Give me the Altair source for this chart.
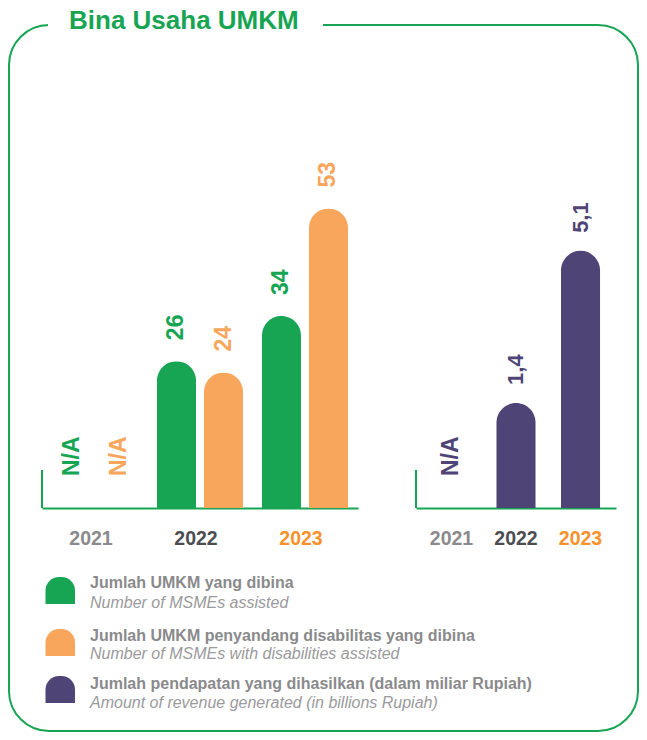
import altair as alt
import pandas as pd

# ---------------- data ----------------
years = ["2021", "2022", "2023"]
series_keys = ["dibina", "disabilitas"]
umkm_dibina = [None, 26, 34]
umkm_dibina_labels = ["N/A", "26", "34"]
umkm_disabilitas = [None, 24, 53]
umkm_disabilitas_labels = ["N/A", "24", "53"]
pendapatan = [None, 1.4, 5.1]
pendapatan_labels = ["N/A", "1,4", "5,1"]

title_text = "Bina Usaha UMKM"
legend_id = [
    "Jumlah UMKM yang dibina",
    "Jumlah UMKM penyandang disabilitas yang dibina",
    "Jumlah pendapatan yang dihasilkan (dalam miliar Rupiah)",
]
legend_en = [
    "Number of MSMEs assisted",
    "Number of MSMEs with disabilities assisted",
    "Amount of revenue generated (in billions Rupiah)",
]

# ---------------- style ----------------
FONT = "Liberation Sans"
GREEN = "#17A553"
ORANGE = "#F8A65B"
PURPLE = "#4E4476"
YEAR_GRAY = "#8B8B8D"
YEAR_DARK = "#4D4D4F"
YEAR_ORANGE = "#F7922C"
LEGEND_BOLD = "#8A8A8C"
LEGEND_ITAL = "#9A9A9C"

H = 357
W_LEFT = 316
W_RIGHT = 200
LEFT_MAX = 63.2
REV_BASE = -1.156
REV_MAX = 7.53

rows = []
for i, y in enumerate(years):
    rows.append({"year": y, "series": "dibina", "value": umkm_dibina[i], "label": umkm_dibina_labels[i]})
    rows.append({"year": y, "series": "disabilitas", "value": umkm_disabilitas[i], "label": umkm_disabilitas_labels[i]})
left_df = pd.DataFrame(rows)
right_df = pd.DataFrame({"year": years, "value": pendapatan, "label": pendapatan_labels})
one = pd.DataFrame({"a": [0]})

label_color_expr = (
    f"datum.value == '2023' ? '{YEAR_ORANGE}' : (datum.value == '2022' ? '{YEAR_DARK}' : '{YEAR_GRAY}')"
)


def x_axis(offset=0):
    return alt.Axis(
        title=None, ticks=False, tickSize=0, domainColor=GREEN, domainWidth=2,
        labelAngle=0, labelFont=FONT, labelFontSize=19.5, labelFontWeight="bold",
        labelColor=alt.expr(label_color_expr), labelPadding=21, labelOffset=offset,
    )


# ---------------- left panel ----------------
xL = alt.X("year:N", sort=years, scale=alt.Scale(domain=years, paddingInner=0.1, paddingOuter=0.055), axis=x_axis(-4))
xoL = alt.XOffset("series:N", sort=series_keys,
                  scale=alt.Scale(domain=series_keys, paddingInner=0.17, paddingOuter=0.09))
yL = alt.Y("value:Q", scale=alt.Scale(domain=[0, LEFT_MAX], nice=False), axis=None)
colL = alt.Color("series:N", scale=alt.Scale(domain=series_keys, range=[GREEN, ORANGE]), legend=None)

baseL = alt.Chart(left_df)
barsL = baseL.mark_bar(cornerRadiusTopLeft=19.5, cornerRadiusTopRight=19.5).encode(x=xL, xOffset=xoL, y=yL, color=colL)
valL = baseL.transform_filter("isValid(datum.value)").mark_text(
    angle=270, align="left", baseline="middle", dx=21, font=FONT, fontSize=23, fontWeight="bold"
).encode(x=xL, xOffset=xoL, y=yL, color=colL, text="label:N")
naL = baseL.transform_filter("!isValid(datum.value)").mark_text(
    angle=270, align="left", baseline="middle", dx=32, font=FONT, fontSize=23, fontWeight="bold"
).encode(x=xL, xOffset=xoL, y=alt.datum(0), color=colL, text="label:N")

# decorations (pixel positions relative to left plot origin)
extent = alt.Chart(one).mark_rect(opacity=0).encode(
    x=alt.value(-34), x2=alt.value(597), y=alt.value(-143), y2=alt.value(581))
border = alt.Chart(one).mark_rect(fillOpacity=0, stroke=GREEN, strokeWidth=2, cornerRadius=40).encode(
    x=alt.value(-33), x2=alt.value(596), y=alt.value(-126), y2=alt.value(580))
cover = alt.Chart(one).mark_rect(fill="white", stroke=None).encode(
    x=alt.value(6), x2=alt.value(281), y=alt.value(-130), y2=alt.value(-122))
title = alt.Chart(one).mark_text(align="left", baseline="alphabetic", font=FONT, fontSize=26,
                                 fontWeight="bold", color=GREEN).encode(
    x=alt.value(27), y=alt.value(-122), text=alt.value(title_text))
vlineL = alt.Chart(one).mark_rule(color=GREEN, strokeWidth=2).encode(
    x=alt.value(0), y=alt.value(H - 38), y2=alt.value(H))

legend_layers = []
sw_tops = [426, 478, 525]
bold_base = [437.3, 490, 538.3]
ital_base = [456.5, 508.3, 556.7]
sw_colors = [GREEN, ORANGE, PURPLE]
for i in range(3):
    legend_layers.append(
        alt.Chart(one).mark_rect(color=sw_colors[i], cornerRadiusTopLeft=14, cornerRadiusTopRight=14).encode(
            x=alt.value(3.5), x2=alt.value(33), y=alt.value(sw_tops[i]), y2=alt.value(sw_tops[i] + 27)))
    legend_layers.append(
        alt.Chart(one).mark_text(align="left", baseline="alphabetic", font=FONT, fontSize=16,
                                 fontWeight="bold", color=LEGEND_BOLD).encode(
            x=alt.value(48), y=alt.value(bold_base[i]), text=alt.value(legend_id[i])))
    legend_layers.append(
        alt.Chart(one).mark_text(align="left", baseline="alphabetic", font=FONT, fontSize=16,
                                 fontStyle="italic", color=LEGEND_ITAL).encode(
            x=alt.value(48), y=alt.value(ital_base[i]), text=alt.value(legend_en[i])))

left = alt.layer(
    extent, border, cover, title, *legend_layers, vlineL, barsL, valL, naL
).properties(width=W_LEFT, height=H)

# ---------------- right panel ----------------
xR = alt.X("year:N", sort=years, scale=alt.Scale(domain=years, paddingInner=0.395, paddingOuter=0.2475), axis=x_axis(0))
yR = alt.Y("value:Q", scale=alt.Scale(domain=[REV_BASE, REV_MAX], zero=False, nice=False), axis=None)
baseR = alt.Chart(right_df)
barsR = baseR.mark_bar(color=PURPLE, cornerRadiusTopLeft=19.5, cornerRadiusTopRight=19.5).encode(
    x=xR, y=yR, y2=alt.datum(REV_BASE))
valR = baseR.transform_filter("isValid(datum.value)").mark_text(
    angle=270, align="left", baseline="middle", dx=18, font=FONT, fontSize=22, fontWeight="bold", color=PURPLE
).encode(x=xR, y=yR, text="label:N")
naR = baseR.transform_filter("!isValid(datum.value)").mark_text(
    angle=270, align="left", baseline="middle", dx=32, font=FONT, fontSize=23, fontWeight="bold", color=PURPLE
).encode(x=xR, y=alt.datum(REV_BASE), text="label:N")
vlineR = alt.Chart(one).mark_rule(color=GREEN, strokeWidth=2).encode(
    x=alt.value(0), y=alt.value(H - 38), y2=alt.value(H))

right = alt.layer(vlineR, barsR, valR, naR).properties(width=W_RIGHT, height=H)

chart = alt.hconcat(left, right, spacing=58, bounds="flush").properties(
    padding=0, background="white"
).configure_view(stroke=None).configure_axisY(disable=True)

chart.save("out.html", embed_options={"renderer": "svg", "actions": False})
